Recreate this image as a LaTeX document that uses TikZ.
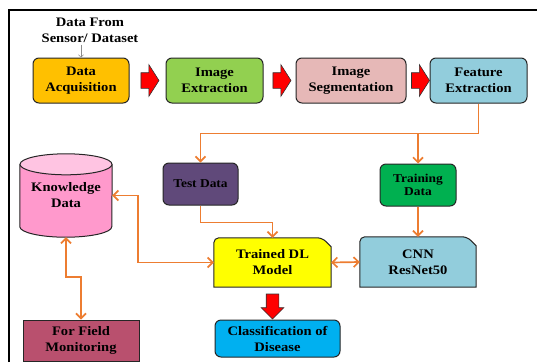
\documentclass[tikz,border=0pt]{standalone}
\usepackage{fontspec}
\setmainfont{Liberation Serif}[FakeStretch=1.12]
\usetikzlibrary{shapes.geometric,shapes.arrows,arrows.meta,positioning,calc,backgrounds}
\definecolor{acqyel}{RGB}{255,192,0}
\definecolor{extgrn}{RGB}{146,208,80}
\definecolor{segpink}{RGB}{230,184,183}
\definecolor{featblue}{RGB}{146,205,220}
\definecolor{testpur}{RGB}{96,73,122}
\definecolor{traingrn}{RGB}{0,176,80}
\definecolor{knowpink}{RGB}{255,153,204}
\definecolor{knowtop}{RGB}{255,196,226}
\definecolor{fieldred}{RGB}{185,80,110}
\definecolor{classblue}{RGB}{0,176,240}
\definecolor{dlyel}{RGB}{255,255,0}
\definecolor{flow}{RGB}{237,125,49}
\newcommand{\stagefont}{\fontsize{13}{16}\selectfont\bfseries}
\newcommand{\smallfont}{\fontsize{12}{13.5}\selectfont\bfseries}
\tikzset{
  stage/.style={draw=black!85,line width=1pt,rounded corners=6pt,align=center,font=\stagefont,inner sep=2pt},
  small/.style={stage,font=\smallfont},
  snipnode/.style={align=center,font=\stagefont,inner sep=2pt},
  outline/.style={draw=black!85,line width=1pt},
  blk/.style={single arrow,draw=black!80,fill=red,line width=0.6pt,inner xsep=0pt,single arrow head indent=0pt},
  flw/.style={draw=flow,line width=1.7pt,-{Straight Barb[length=5pt,width=10pt]}},
  bflw/.style={flw,{Straight Barb[length=5pt,width=10pt]}-{Straight Barb[length=5pt,width=10pt]}},
  srcarr/.style={draw=black!45,line width=0.5pt,-{Straight Barb[length=2.5pt,width=5pt]}}
}

\begin{document}
\begin{tikzpicture}[x=1pt,y=-1pt]
\newcommand{\snipbox}[6]{\node[snipnode,minimum width=#3,minimum height=#4] (#1) at (#2) {#6};
  \begin{scope}[on background layer]
    \filldraw[fill=#5,outline,rounded corners=5pt] (#1.west) |- ([xshift=-9pt]#1.north east) [sharp corners] -- ([yshift=-9pt]#1.north east) |- (#1.south west) -- cycle;
  \end{scope}}
\useasboundingbox (0,0) rectangle (537,362);
% frame
\draw[line width=1.1pt] (9,362) -- (9,10) -- (537,10);

% top row
\node[font=\stagefont,align=center,inner sep=2pt] (src) at (90,30) {Data From\\Sensor/ Dataset};
\node[stage,fill=acqyel,minimum width=96pt,minimum height=45pt] (acq) at (81,80.5) {Data\\Acquisition};
\node[stage,fill=extgrn,minimum width=97pt,minimum height=45pt] (ext) at (214.5,80.5) {Image\\Extraction};
\node[stage,fill=segpink,minimum width=110pt,minimum height=45pt] (seg) at (351,80.5) {Image\\Segmentation};
\node[stage,fill=featblue,minimum width=97pt,minimum height=45pt] (feat) at (478.5,80.5) {Feature\\Extraction};
\draw[srcarr] (src.south -| acq.north) -- (acq.north);
\foreach \a/\b in {acq/ext,ext/seg,seg/feat}
  \node[blk,inner ysep=7.5pt,single arrow head extend=8pt,minimum height=18pt,single arrow tip angle=115] at ($(\a.east)!0.5!(\b.west)$) {};

% data split
\node[small,fill=testpur,minimum width=75pt,minimum height=42pt] (test) at (200.5,184) {Test Data};
\node[small,fill=traingrn,minimum width=76pt,minimum height=42pt] (train) at (418,185) {Training\\Data};
\draw[flw] (feat.south) -- ++(0,30) coordinate (bus) -| (test.north);
\draw[flw] (bus -| train.north) -- (train.north);

% model
\snipbox{dl}{272.5,262.5}{117pt}{49pt}{dlyel}{Trained DL\\Model}
\snipbox{cnn}{418,262}{116pt}{50pt}{featblue}{CNN\\ResNet50}
\draw[flw] (train.south) -- (cnn.north);
\draw[flw] (test.south) -- ++(0,17) -| (dl.north);
\draw[bflw] (dl.east) -- (cnn.west);

% knowledge base drum
\node[snipnode,minimum width=92pt,minimum height=83pt] (know) at (66,195.5) {Knowledge\\Data};
\begin{scope}[on background layer]
  \filldraw[fill=knowpink,outline] ([yshift=-10.5pt]know.north west) -- ([yshift=10.5pt]know.south west)
    arc[start angle=180,end angle=360,x radius=46pt,y radius=10.5pt] -- ([yshift=-10.5pt]know.north east);
  \filldraw[fill=knowtop,outline] ([yshift=-10.5pt]know.north) ellipse[x radius=46pt,y radius=10.5pt];
\end{scope}

% outputs
\node[stage,rounded corners=0pt,fill=fieldred,minimum width=116pt,minimum height=41pt] (field) at (81,340.5) {For Field\\Monitoring};
\node[stage,fill=classblue,minimum width=125pt,minimum height=37pt] (cls) at (277.5,338.5) {Classification of\\Disease};
\draw[bflw] (know.east) -- ++(26,0) |- (dl.west);
\draw[bflw] (know.south) -- ++(0,40) -| (field.north);
\node[blk,rotate=-90,inner ysep=6pt,single arrow head extend=5pt,minimum height=25pt] at ($(dl.south)!0.5!(dl.south |- cls.north)$) {};
\end{tikzpicture}
\end{document}
